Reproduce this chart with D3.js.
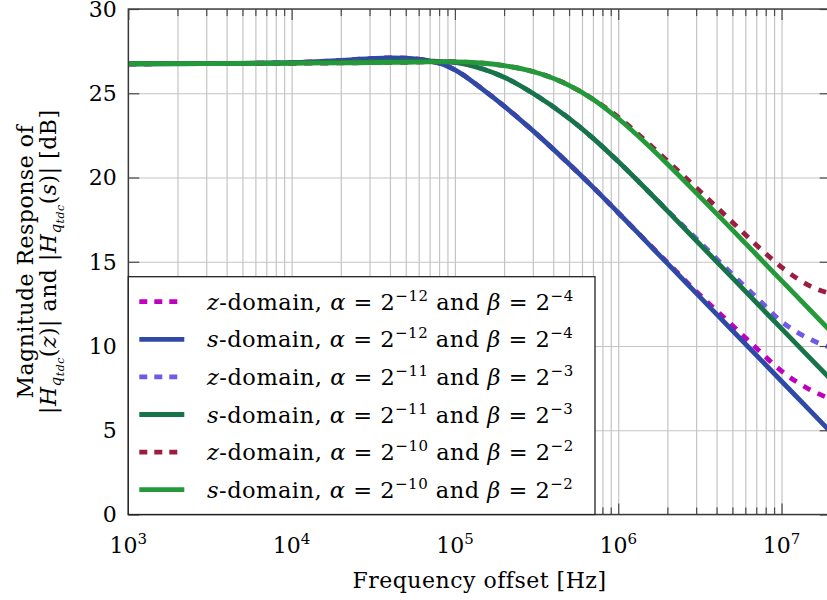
<!DOCTYPE html>
<html>
<head>
<meta charset="utf-8">
<script src="https://cdn.jsdelivr.net/npm/d3@7/dist/d3.min.js"></script>
<style>
  body { margin: 0; background: #fff; }
  text { font-family: "DejaVu Serif", serif; fill: #000; }
  .lbl { letter-spacing: 0.5px; }
</style>
</head>
<body>
<div id="chart"></div>
<script>
// frequencies (Hz) at which the curves were read
var freq = [1e3, 3e3, 1e4, 2e4, 3e4, 4e4, 5e4, 7e4, 8.5e4, 1e5, 1.5e5, 2e5, 3e5, 5e5, 7e5,
            1e6, 1.5e6, 2e6, 3e6, 5e6, 7e6, 1e7, 1.5e7, 2e7];

// magnitude in dB, one array per curve
var zA12 = [26.75, 26.76, 26.82, 26.95, 27.05, 27.1, 27.08, 26.92, 26.71, 26.39, 25.19, 24.24, 22.78, 20.8, 19.43,
            17.91, 16.17, 14.95, 13.24, 11.22, 9.88, 8.51, 7.4, 6.85];
var sA12 = [26.75, 26.76, 26.82, 26.95, 27.05, 27.1, 27.08, 26.92, 26.71, 26.39, 25.19, 24.24, 22.78, 20.8, 19.43,
            17.91, 16.15, 14.9, 13.14, 10.92, 9.46, 7.91, 6.15, 4.9];
var zA11 = [26.75, 26.76, 26.8, 26.84, 26.87, 26.89, 26.9, 26.9, 26.88, 26.84, 26.42, 25.95, 25.0, 23.51, 22.34,
            20.95, 19.26, 18.04, 16.38, 14.25, 12.9, 11.45, 10.4, 9.9];
var sA11 = [26.75, 26.76, 26.8, 26.84, 26.87, 26.89, 26.9, 26.9, 26.88, 26.84, 26.42, 25.95, 25.0, 23.51, 22.34,
            20.95, 19.26, 18.02, 16.26, 14.04, 12.58, 11.03, 9.27, 8.02];
var zA10 = [26.75, 26.76, 26.78, 26.8, 26.82, 26.83, 26.84, 26.86, 26.86, 26.86, 26.78, 26.64, 26.29, 25.47, 24.65,
            23.58, 22.1, 20.98, 19.4, 17.35, 16.0, 14.68, 13.55, 13.1];
var sA10 = [26.75, 26.76, 26.78, 26.8, 26.82, 26.83, 26.84, 26.86, 26.86, 26.86, 26.78, 26.64, 26.29, 25.47, 24.65,
            23.5, 21.97, 20.8, 19.09, 16.89, 15.43, 13.88, 12.12, 10.87];

var domains = ["z", "s", "z", "s", "z", "s"];
var alphaExp = ["\u221212", "\u221212", "\u221211", "\u221211", "\u221210", "\u221210"];
var betaExp = ["\u22124", "\u22124", "\u22123", "\u22123", "\u22122", "\u22122"];
var colors = ["#c000c0", "#2f4aa6", "#6f5ae8", "#177348", "#9b1e40", "#24993a"];

var yTicks = [0, 5, 10, 15, 20, 25, 30];
var xTickExps = [3, 4, 5, 6, 7];

var values = [zA12, sA12, zA11, sA11, zA10, sA10];

var width = 827, height = 600;
var margin = { top: 9, left: 128.3, right: -3.7, bottom: 85.5 };
var w = width - margin.left - margin.right;
var h = height - margin.top - margin.bottom;

var svg = d3.select("#chart").append("svg")
  .attr("width", width)
  .attr("height", height);

svg.append("defs").append("clipPath")
  .attr("id", "clip")
  .append("rect")
  .attr("width", w)
  .attr("height", h);

var g = svg.append("g")
  .attr("transform", "translate(" + margin.left + "," + margin.top + ")");

var x = d3.scaleLog().domain([1e3, 2e7]).range([0, w]);
var y = d3.scaleLinear().domain([0, 30]).range([h, 0]);

var majorX = xTickExps.map(function (e) { return Math.pow(10, e); });
var allX = x.ticks();
var minorX = allX.filter(function (t) { return majorX.indexOf(t) < 0; });

var gridColor = "#c4c4c4";
var tickColor = "#4a4a4a";

// grid
g.append("g")
  .attr("transform", "translate(0," + h + ")")
  .call(d3.axisBottom(x).tickValues(allX).tickSize(-h).tickFormat(""))
  .call(function (s) { s.select(".domain").remove(); })
  .selectAll("line").attr("stroke", gridColor).attr("stroke-width", 1.2);

g.append("g")
  .call(d3.axisLeft(y).tickValues(yTicks).tickSize(-w).tickFormat(""))
  .call(function (s) { s.select(".domain").remove(); })
  .selectAll("line").attr("stroke", gridColor).attr("stroke-width", 1.2);

// curves
var line = d3.line()
  .x(function (d) { return x(d[0]); })
  .y(function (d) { return y(d[1]); })
  .curve(d3.curveMonotoneX);

var curves = g.append("g").attr("clip-path", "url(#clip)");
values.forEach(function (vals, i) {
  var pts = freq.map(function (f, k) { return [f, vals[k]]; });
  curves.append("path")
    .datum(pts)
    .attr("fill", "none")
    .attr("stroke", colors[i])
    .attr("stroke-width", 4.8)
    .attr("stroke-dasharray", domains[i] === "z" ? "8,8" : null)
    .attr("d", line);
});

// ticks (inward) on all four sides
function tickAxis(axis, tr) {
  var a = g.append("g").attr("transform", tr).call(axis);
  a.select(".domain").remove();
  a.selectAll("line").attr("stroke", tickColor).attr("stroke-width", 1.2);
}
tickAxis(d3.axisBottom(x).tickValues(majorX).tickSize(-11).tickFormat(""), "translate(0," + h + ")");
tickAxis(d3.axisBottom(x).tickValues(minorX).tickSize(-7).tickFormat(""), "translate(0," + h + ")");
tickAxis(d3.axisTop(x).tickValues(majorX).tickSize(-11).tickFormat(""), "translate(0,0)");
tickAxis(d3.axisTop(x).tickValues(minorX).tickSize(-7).tickFormat(""), "translate(0,0)");
tickAxis(d3.axisLeft(y).tickValues(yTicks).tickSize(-11).tickFormat(""), "translate(0,0)");
tickAxis(d3.axisRight(y).tickValues(yTicks).tickSize(-11).tickFormat(""), "translate(" + w + ",0)");

// frame
g.append("rect")
  .attr("width", w).attr("height", h)
  .attr("fill", "none")
  .attr("stroke", "#3a3a3a")
  .attr("stroke-width", 1.4);

// tick labels
g.selectAll(".ylab").data(yTicks).enter().append("text")
  .attr("x", -11.5)
  .attr("y", function (d) { return y(d); })
  .attr("dy", "0.36em")
  .attr("text-anchor", "end")
  .style("font-size", "22px")
  .text(function (d) { return d; });

var xl = g.selectAll(".xlab").data(xTickExps).enter().append("text")
  .attr("x", function (d) { return x(Math.pow(10, d)); })
  .attr("y", h + 38)
  .attr("text-anchor", "middle")
  .style("font-size", "22px");
xl.append("tspan").text("10");
xl.append("tspan").attr("dy", -9).style("font-size", "15px").text(function (d) { return d; });

// axis titles
svg.append("text")
  .attr("class", "lbl")
  .attr("x", margin.left + w / 2)
  .attr("y", 588)
  .attr("text-anchor", "middle")
  .style("font-size", "22px")
  .text("Frequency offset [Hz]");

var cy = margin.top + h / 2;
svg.append("text")
  .attr("class", "lbl")
  .attr("transform", "translate(33," + cy + ") rotate(-90)")
  .attr("text-anchor", "middle")
  .style("font-size", "22px")
  .text("Magnitude Response of");

function addSegs(t, segs) {
  segs.forEach(function (s) {
    var ts = t.append("tspan").text(s.t);
    if (s.i) ts.style("font-style", "italic");
    if (s.fs) ts.style("font-size", s.fs + "px");
    if (s.dy) ts.attr("dy", s.dy);
  });
}

var yl2 = svg.append("text")
  .attr("class", "lbl")
  .attr("transform", "translate(56," + cy + ") rotate(-90)")
  .attr("text-anchor", "middle")
  .style("font-size", "22px");
addSegs(yl2, [
  { t: "|" }, { t: "H", i: 1 }, { t: "q", i: 1, fs: 15, dy: 5 }, { t: "tdc", i: 1, fs: 11, dy: 3 },
  { t: "(", dy: -8 }, { t: "z", i: 1 }, { t: ")| and |" }, { t: "H", i: 1 },
  { t: "q", i: 1, fs: 15, dy: 5 }, { t: "tdc", i: 1, fs: 11, dy: 3 },
  { t: "(", dy: -8 }, { t: "s", i: 1 }, { t: ")| [dB]" }
]);

// legend
var legTop = 267.7;
var legW = 466.7;
var leg = g.append("g");
leg.append("rect")
  .attr("x", 0).attr("y", legTop)
  .attr("width", legW).attr("height", h - legTop)
  .attr("fill", "#fff")
  .attr("stroke", "#222")
  .attr("stroke-width", 1.3);

domains.forEach(function (d, i) {
  var ry = legTop + 25 + i * 37.6;
  leg.append("line")
    .attr("x1", 11).attr("x2", 56)
    .attr("y1", ry).attr("y2", ry)
    .attr("stroke", colors[i])
    .attr("stroke-width", 4.8)
    .attr("stroke-dasharray", d === "z" ? "8,7" : null);
  var t = leg.append("text")
    .attr("class", "lbl")
    .attr("x", 78.7).attr("y", ry + 8)
    .style("font-size", "22.5px");
  addSegs(t, [
    { t: d, i: 1 }, { t: "-domain, " }, { t: "\u03b1", i: 1 }, { t: " = 2" },
    { t: alphaExp[i], fs: 15, dy: -9 }, { t: " and ", dy: 9 }, { t: "\u03b2", i: 1 },
    { t: " = 2" }, { t: betaExp[i], fs: 15, dy: -9 }
  ]);
});
</script>
</body>
</html>
